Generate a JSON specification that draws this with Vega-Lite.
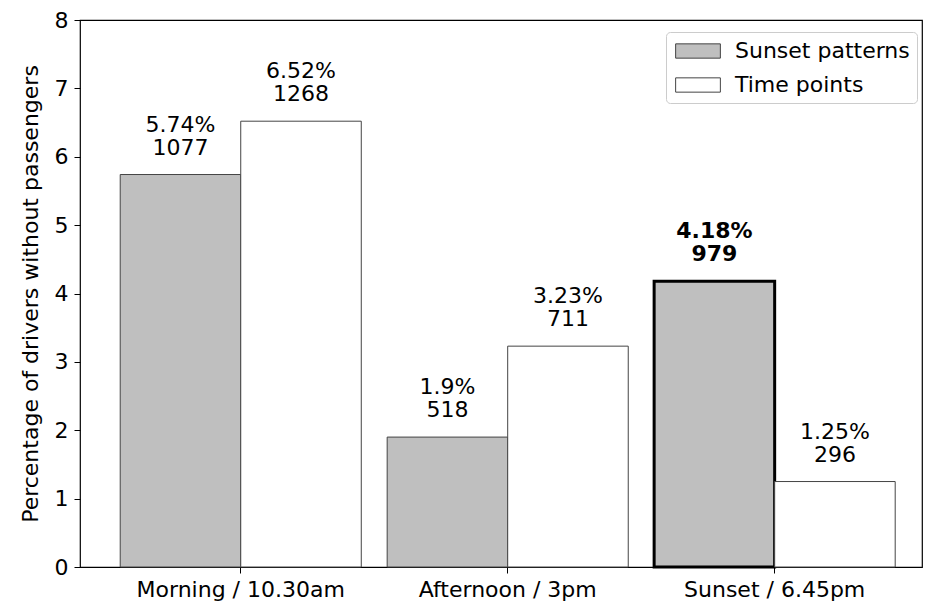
{
  "$schema": "https://vega.github.io/schema/vega-lite/v6.json",
  "autosize": {"type": "none"},
  "padding": {"left": 80, "top": 20, "right": 3, "bottom": 38},
  "width": 842,
  "height": 547,
  "background": "white",
  "config": {
    "font": "DejaVu Sans",
    "view": {"stroke": "#000", "strokeWidth": 1.2},
    "axis": {
      "labelFont": "DejaVu Sans",
      "titleFont": "DejaVu Sans",
      "labelFontSize": 22,
      "titleFontSize": 22,
      "labelColor": "#000",
      "titleColor": "#000",
      "titleFontWeight": "normal",
      "domainColor": "#000",
      "tickColor": "#000",
      "tickSize": 6,
      "labelLimit": 0,
      "grid": false
    }
  },
  "data": {
    "values": [
      {"time": "Morning / 10.30am", "series": "Sunset patterns", "pct": 5.74, "count": 1077},
      {"time": "Morning / 10.30am", "series": "Time points", "pct": 6.52, "count": 1268},
      {"time": "Afternoon / 3pm", "series": "Sunset patterns", "pct": 1.9, "count": 518},
      {"time": "Afternoon / 3pm", "series": "Time points", "pct": 3.23, "count": 711},
      {"time": "Sunset / 6.45pm", "series": "Sunset patterns", "pct": 4.18, "count": 979},
      {"time": "Sunset / 6.45pm", "series": "Time points", "pct": 1.25, "count": 296}
    ]
  },
  "transform": [
    {"calculate": "[datum.pct + '%', '' + datum.count]", "as": "label"},
    {"calculate": "datum.time === 'Sunset / 6.45pm' && datum.series === 'Sunset patterns'", "as": "hl"}
  ],
  "encoding": {
    "x": {
      "field": "time",
      "type": "nominal",
      "sort": ["Morning / 10.30am", "Afternoon / 3pm", "Sunset / 6.45pm"],
      "scale": {"paddingInner": 0.097, "paddingOuter": 0.1255, "align": 0.6},
      "axis": {"title": null, "labelAngle": 0, "labelPadding": 6, "domain": false}
    },
    "xOffset": {
      "field": "series",
      "type": "nominal",
      "sort": ["Sunset patterns", "Time points"],
      "scale": {"paddingInner": 0, "paddingOuter": 0}
    },
    "y": {
      "field": "pct",
      "type": "quantitative",
      "scale": {"domain": [0, 8], "nice": false},
      "axis": {
        "title": "Percentage of drivers without passengers",
        "values": [0, 1, 2, 3, 4, 5, 6, 7, 8],
        "labelPadding": 6,
        "titlePadding": 12,
        "domain": false
      }
    }
  },
  "layer": [
    {
      "mark": {"type": "bar"},
      "encoding": {
        "color": {
          "field": "series",
          "type": "nominal",
          "scale": {"domain": ["Sunset patterns", "Time points"], "range": ["#bfbfbf", "#ffffff"]},
          "legend": {
            "title": null,
            "orient": "none",
            "legendX": 586,
            "legendY": 12,
            "labelFont": "DejaVu Sans",
            "labelFontSize": 22,
            "labelColor": "#000",
            "labelLimit": 0,
            "symbolType": "M-2,-0.64H2V0.64H-2Z",
            "symbolSize": 500,
            "symbolOffset": 13,
            "symbolStrokeColor": "#444",
            "symbolStrokeWidth": 1,
            "symbolOpacity": 1,
            "labelOffset": 25,
            "rowPadding": 11,
            "padding": 7,
            "strokeColor": "#ccc",
            "fillColor": "white",
            "cornerRadius": 4
          }
        },
        "stroke": {"condition": {"test": "datum.hl", "value": "#000"}, "value": "#444"},
        "strokeWidth": {"condition": {"test": "datum.hl", "value": 3}, "value": 1}
      }
    },
    {
      "transform": [{"filter": "!datum.hl"}],
      "mark": {"type": "text", "baseline": "bottom", "dy": -38, "fontSize": 22, "lineHeight": 23, "color": "#000", "font": "DejaVu Sans"},
      "encoding": {"text": {"field": "label"}}
    },
    {
      "transform": [{"filter": "datum.hl"}],
      "mark": {"type": "text", "baseline": "bottom", "dy": -38, "fontSize": 22, "lineHeight": 23, "color": "#000", "font": "DejaVu Sans", "fontWeight": "bold"},
      "encoding": {"text": {"field": "label"}}
    }
  ]
}
